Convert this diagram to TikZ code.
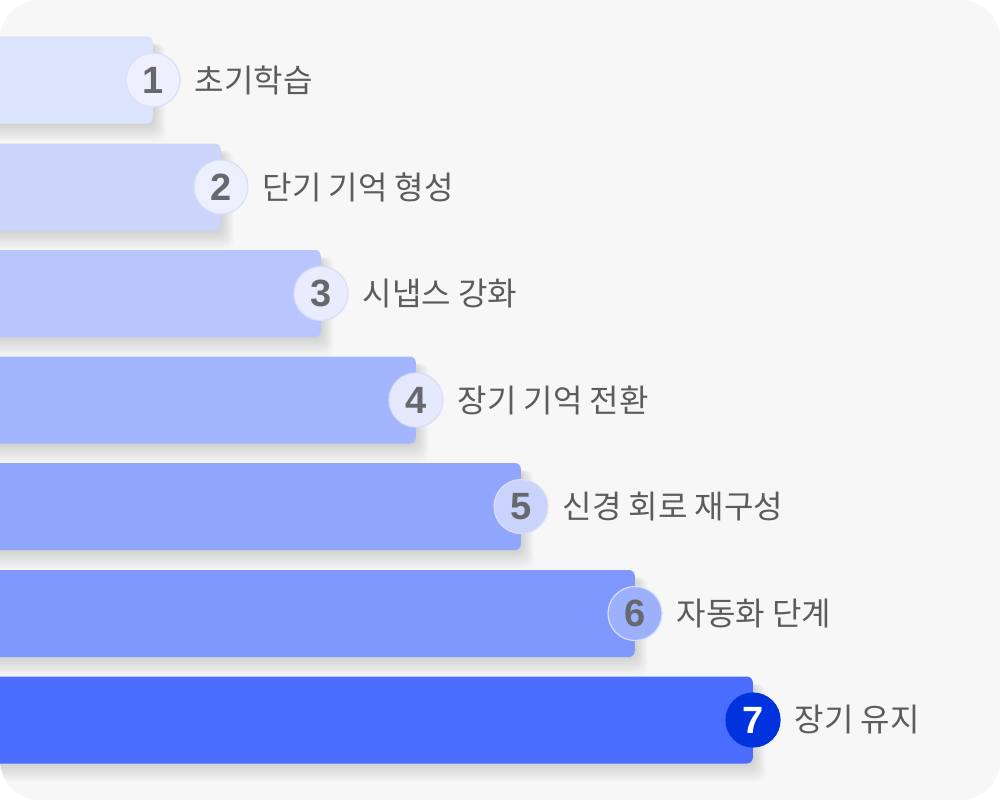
\documentclass[tikz,border=0pt]{standalone}
\usepackage{fontspec}
\setmainfont{Noto Sans CJK KR}
\newfontfamily\numfont{Liberation Sans}
\definecolor{bgc}{HTML}{F7F7F7}
\definecolor{txt}{HTML}{5C5C5C}
\definecolor{numc}{HTML}{66686E}
\definecolor{ringc}{HTML}{D9DFF8}
\definecolor{bA}{HTML}{DCE3FC}
\definecolor{bB}{HTML}{CBD5FC}
\definecolor{bC}{HTML}{B8C6FD}
\definecolor{bD}{HTML}{A3B5FD}
\definecolor{bE}{HTML}{90A6FD}
\definecolor{bF}{HTML}{7E98FE}
\definecolor{bG}{HTML}{4A6DFF}
\definecolor{cA}{HTML}{EEF1FD}
\definecolor{cB}{HTML}{ECEFFD}
\definecolor{cC}{HTML}{E8ECFD}
\definecolor{cD}{HTML}{E4E9FD}
\definecolor{cE}{HTML}{C9D3FC}
\definecolor{cF}{HTML}{9DB0FB}
\definecolor{cG}{HTML}{0033DD}
\newcommand\mkshadow[2]{%
  \foreach \k in {1,...,9}{%
    \fill[black, opacity=0.016, rounded corners=8pt]
      (-30,#2-36) rectangle (#1+\k*1.4,#2+43.5+\k*2);
  }}
\tikzset{
  barbox/.style={rectangle, rounded corners=6pt, minimum height=87pt, inner sep=0pt, anchor=east},
  numdot/.style={circle, minimum size=54pt, inner sep=0pt, draw=ringc, line width=1.2pt,
    font=\numfont\fontsize{38}{38}\selectfont\bfseries, text=numc},
  steplabel/.style={anchor=west, inner sep=0pt, font=\fontsize{32}{32}\selectfont, text=txt}
}
\begin{document}
\begin{tikzpicture}[x=1pt,y=-1pt]
\useasboundingbox (0,0) rectangle (1000,800);
\fill[white] (0,0) rectangle (1000,800);
\fill[bgc, rounded corners=40pt] (0,0) rectangle (1000,800);
\begin{scope}
\clip[rounded corners=40pt] (0,0) rectangle (1000,800);
\mkshadow{153}{80}
\mkshadow{221}{187}
\mkshadow{321}{293.5}
\mkshadow{416}{400}
\mkshadow{521}{506.5}
\mkshadow{635}{613.5}
\mkshadow{753}{720}
\node[barbox, fill=bA, minimum width=173pt] (b1) at (153,80) {};
\node[barbox, fill=bB, minimum width=241pt] (b2) at (221,187) {};
\node[barbox, fill=bC, minimum width=341pt] (b3) at (321,293.5) {};
\node[barbox, fill=bD, minimum width=436pt] (b4) at (416,400) {};
\node[barbox, fill=bE, minimum width=541pt] (b5) at (521,506.5) {};
\node[barbox, fill=bF, minimum width=655pt] (b6) at (635,613.5) {};
\node[barbox, fill=bG, minimum width=773pt] (b7) at (753,720) {};
\end{scope}
\node[numdot, fill=cA] (n1) at (b1.east) {1};
\node[numdot, fill=cB] (n2) at (b2.east) {2};
\node[numdot, fill=cC] (n3) at (b3.east) {3};
\node[numdot, fill=cD] (n4) at (b4.east) {4};
\node[numdot, fill=cE] (n5) at (b5.east) {5};
\node[numdot, fill=cF] (n6) at (b6.east) {6};
\node[numdot, fill=cG, draw=cG, text=white] (n7) at (b7.east) {7};
\node[steplabel] (t1) at ([xshift=14pt]n1.east) {초기학습};
\node[steplabel] (t2) at ([xshift=14pt]n2.east) {단기 기억 형성};
\node[steplabel] (t3) at ([xshift=14pt]n3.east) {시냅스 강화};
\node[steplabel] (t4) at ([xshift=14pt]n4.east) {장기 기억 전환};
\node[steplabel] (t5) at ([xshift=14pt]n5.east) {신경 회로 재구성};
\node[steplabel] (t6) at ([xshift=14pt]n6.east) {자동화 단계};
\node[steplabel] (t7) at ([xshift=14pt]n7.east) {장기 유지};
\end{tikzpicture}
\end{document}
